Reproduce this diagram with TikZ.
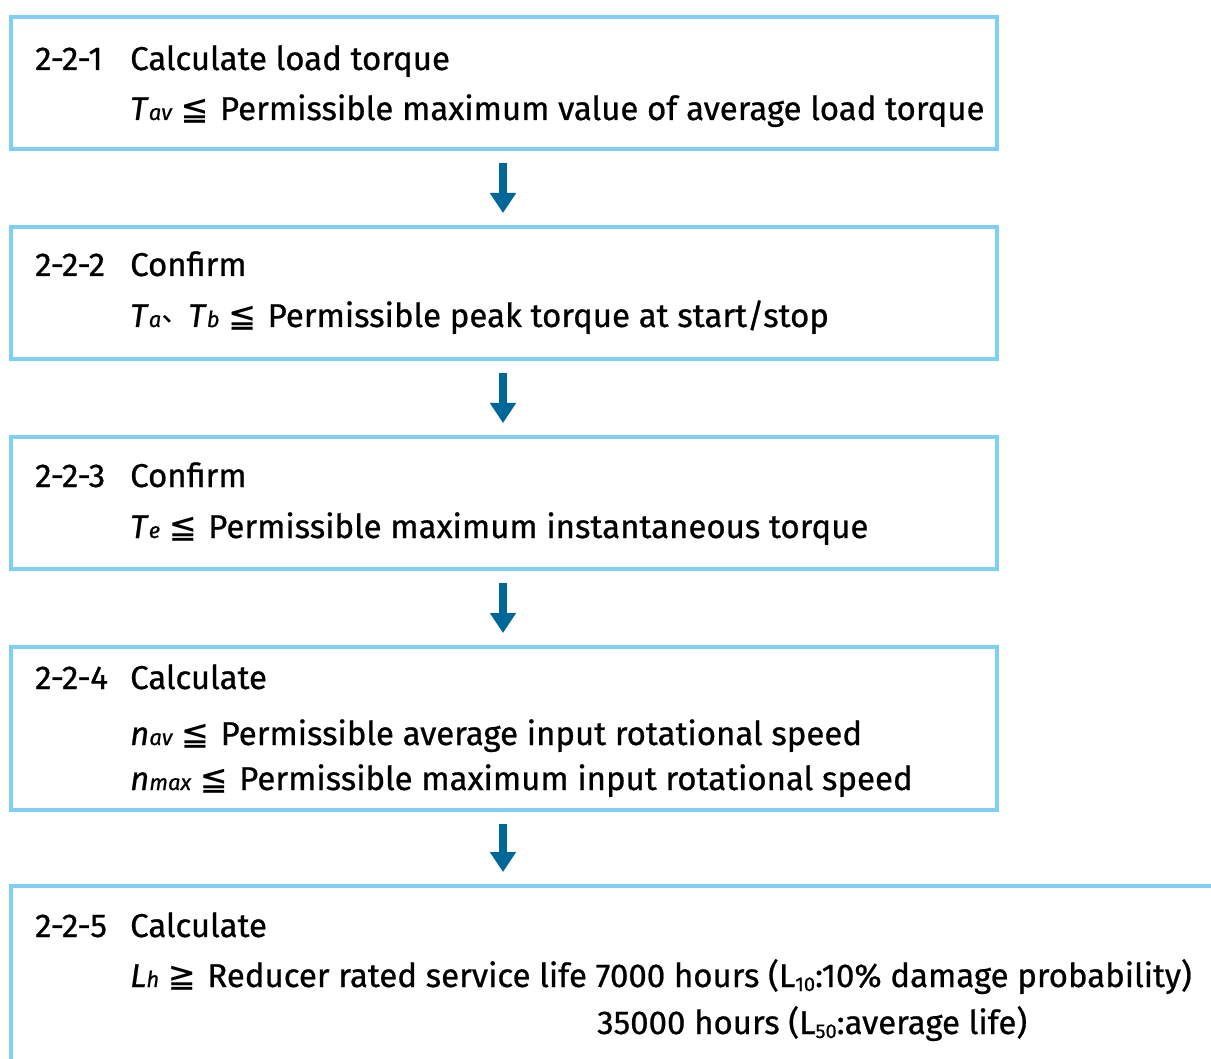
\documentclass[tikz,border=0pt]{standalone}
\usepackage{fontspec}
\setmainfont{Fira Sans}[FakeBold=0.7]
\newfontfamily\symfont{DejaVu Sans}[FakeBold=0.4]
\newfontfamily\cjkfont{Noto Sans CJK JP}[FakeBold=0.5]
\usetikzlibrary{arrows.meta}
\definecolor{boxblue}{RGB}{128,206,244}
\definecolor{arrowblue}{RGB}{0,103,153}
% italic quantity with a small italic index on the baseline
\newcommand\Qv[2]{\textit{#1}{\fontsize{22}{22}\selectfont\itshape #2}}
% small lowered index
\newcommand\Lsub[1]{\raisebox{-4pt}{\fontsize{20}{20}\selectfont #1}}
\newcommand\SymLE{{\symfont ≦}\hspace{3pt}\ }
\newcommand\SymGE{{\symfont ≧}\hspace{3pt}\ }
\newcommand\IdeoComma{\raisebox{6pt}{\makebox[27pt][l]{\hspace{0.5pt}\fontsize{26}{26}\cjkfont 、}}}
\begin{document}
\begin{tikzpicture}[x=1pt,y=-1pt,
  stepbox/.style={draw=boxblue, line width=4pt, rectangle, inner sep=0pt, anchor=north west},
  flow/.style={draw=arrowblue, line width=8pt, -{Triangle[width=25pt,length=20pt]}},
  txt/.style={anchor=base west, inner sep=0pt, font=\fontsize{33}{40}\selectfont}]
\clip (0,0) rectangle (1211,1059);
\fill[white] (0,0) rectangle (1211,1059);

% step boxes
\node[stepbox, minimum width=985.5pt, minimum height=132pt] (b1) at (9,15) {};
\node[stepbox, minimum width=985.5pt, minimum height=132pt] (b2) at (9,225) {};
\node[stepbox, minimum width=985.5pt, minimum height=132pt] (b3) at (9,435) {};
\node[stepbox, minimum width=985.5pt, minimum height=163pt] (b4) at (9,645) {};
\node[stepbox, minimum width=1240pt, minimum height=220pt] (b5) at (9,884) {};

% arrows between steps
\foreach \a/\b in {b1/b2, b2/b3, b3/b4, b4/b5}
  \draw[flow] ([yshift=-12pt]\a.south -| 503,0) -- ([yshift=12pt]\b.north -| 503,0);

% step 2-2-1
\node[txt] (n1) at (35,70) {2-2-1};
\node[txt] (h1) at (130,70) {Calculate load torque};
\node[txt] (c1) at (130,120) {\Qv{T}{av} \SymLE Permissible maximum value of average load torque};

% step 2-2-2
\node[txt] (n2) at (35,276) {2-2-2};
\node[txt] (h2) at (130,276) {Confirm};
\node[txt] (c2) at (130,327) {\Qv{T}{a}\IdeoComma\Qv{T}{b} \SymLE Permissible peak torque at start/stop};

% step 2-2-3
\node[txt] (n3) at (35,487) {2-2-3};
\node[txt] (h3) at (130,487) {Confirm};
\node[txt] (c3) at (130,538) {\Qv{T}{e} \SymLE Permissible maximum instantaneous torque};

% step 2-2-4
\node[txt] (n4) at (35,689) {2-2-4};
\node[txt] (h4) at (130,689) {Calculate};
\node[txt] (c4) at (130,745) {\Qv{n}{av} \SymLE Permissible average input rotational speed};
\node[txt] (d4) at (130,790) {\Qv{n}{max} \SymLE Permissible maximum input rotational speed};

% step 2-2-5
\node[txt] (n5) at (35,937) {2-2-5};
\node[txt] (h5) at (130,937) {Calculate};
\node[txt] (c5) at (130,987) {\Qv{L}{h} \SymGE Reducer rated service life 7000 hours (L\Lsub{10}:10\% damage probability)};
\node[txt] (d5) at (597,1034) {35000 hours (L\Lsub{50}:average life)};
\end{tikzpicture}
\end{document}
